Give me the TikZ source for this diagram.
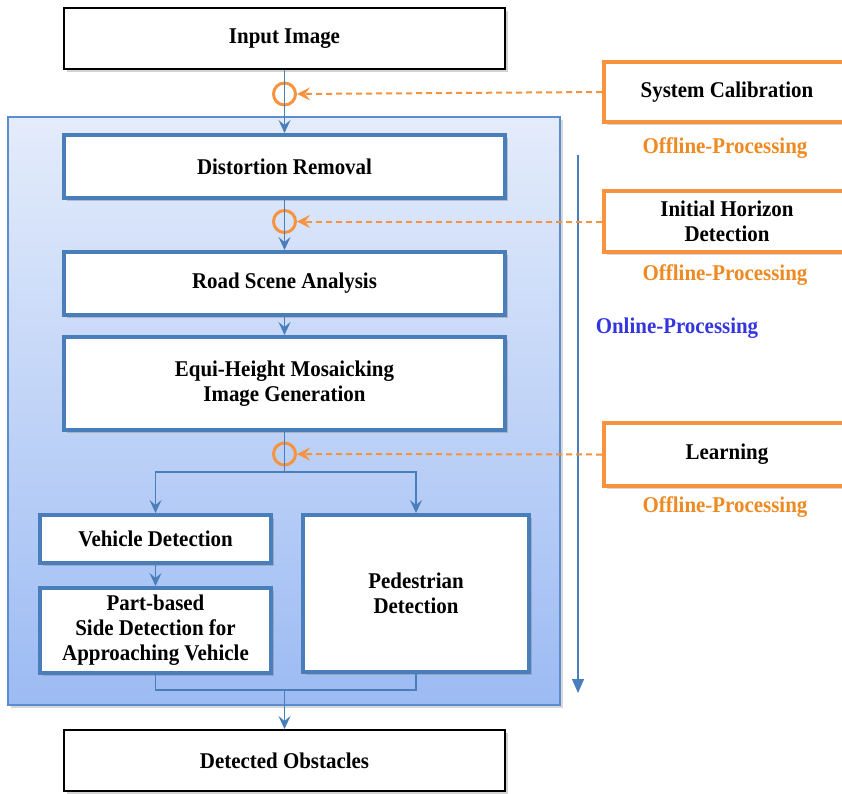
\documentclass[tikz,border=0pt]{standalone}
\usepackage{fontspec}
\setmainfont{Liberation Serif}[FakeStretch=0.93]
\usetikzlibrary{arrows.meta,shadows}

\definecolor{flowblue}{HTML}{4A7EBB}
\definecolor{panelblue}{HTML}{5B8BD0}
\definecolor{paneltop}{HTML}{E4ECFB}
\definecolor{panelbottom}{HTML}{9CBBF3}
\definecolor{offorange}{HTML}{F7923E}
\definecolor{offtext}{HTML}{EF8A22}
\definecolor{onblue}{HTML}{3535E0}

\tikzset{
  txt/.style={font=\fontsize{22.5}{25}\selectfont\bfseries, align=center},
  plainbox/.style={txt, draw=black, line width=2pt, fill=white,
    drop shadow={opacity=0.35, shadow xshift=3pt, shadow yshift=-3pt}},
  bluebox/.style={txt, draw=flowblue, line width=4pt, fill=white,
    drop shadow={opacity=0.4, shadow xshift=3pt, shadow yshift=-3pt}},
  orangebox/.style={txt, draw=offorange, line width=4pt, fill=white,
    minimum width=246pt, drop shadow={opacity=0.3, shadow xshift=3pt, shadow yshift=-3pt}},
  joint/.style={circle, draw=offorange, line width=3pt, minimum size=22pt, inner sep=0pt},
  flow/.style={flowblue, line width=1.5pt, -{Stealth[length=13pt,width=12pt,inset=5pt]}},
  link/.style={flowblue, line width=1.5pt},
  feed/.style={offorange, line width=2pt, dash pattern=on 6pt off 4pt,
    -{Stealth[length=13pt,width=13pt,inset=5pt]}},
  offlabel/.style={txt, text=offtext},
}

\begin{document}
\begin{tikzpicture}[x=1pt,y=-1pt]
  \useasboundingbox (0,0) rectangle (842,793);
  \clip (0,0) rectangle (842,793);
  \fill[white] (0,0) rectangle (842,793);

  % Online panel
  \shade[top color=paneltop, bottom color=panelbottom, draw=panelblue, line width=1.5pt,
    drop shadow={opacity=0.3, shadow xshift=3pt, shadow yshift=-3pt}]
    (8,117) rectangle (560,705);

  % Main chain
  \node[plainbox, minimum width=441pt, minimum height=61pt] (input) at (284.5,38.5) {Input Image};
  \node[bluebox, minimum width=441pt, minimum height=63pt] (undist) at (284.5,166.5) {Distortion Removal};
  \node[bluebox, minimum width=441pt, minimum height=63pt] (road) at (284.5,283.5) {Road Scene Analysis};
  \node[bluebox, minimum width=441pt, minimum height=93pt] (mosaic) at (284.5,383.5)
    {Equi-Height Mosaicking\\Image Generation};
  \node[bluebox, minimum width=231pt, minimum height=48pt] (vehicle) at (155.5,539) {Vehicle Detection};
  \node[bluebox, minimum width=231pt, minimum height=85pt] (side) at (155.5,630.5)
    {Part-based\\Side Detection for\\Approaching Vehicle};
  \node[bluebox, minimum width=226pt, minimum height=157pt] (pedestrian) at (416,593.5)
    {Pedestrian\\Detection};
  \node[plainbox, minimum width=441pt, minimum height=61pt] (obstacles) at (284.5,760.5) {Detected Obstacles};

  % Offline inputs
  \node[orangebox, minimum height=60pt] (calib) at (727,92) {System Calibration};
  \node[offlabel] (calibtag) at (725,148) {Offline-Processing};
  \node[orangebox, minimum height=61pt] (horizon) at (727,221.5) {Initial Horizon\\Detection};
  \node[offlabel] (horizontag) at (725,275) {Offline-Processing};
  \node[orangebox, minimum height=63pt] (learn) at (727,454.5) {Learning};
  \node[offlabel] (learntag) at (725,507) {Offline-Processing};

  % Online direction
  \coordinate (ontop) at (578,155);
  \coordinate (onend) at (578,693);
  \draw[flowblue, line width=1.2pt, -{Triangle[length=14pt,width=12pt]}] (ontop) -- (onend);
  \node[txt, text=onblue] (ontag) at (677,328) {Online-Processing};

  % Joints
  \node[joint] (j1) at (284.5,94) {};
  \node[joint] (j2) at (284.5,221.5) {};
  \node[joint] (j3) at (284.5,454) {};

  % Connectors
  \draw[flow] (input) -- (undist);
  \draw[flow] (undist) -- (road);
  \draw[flow] (road) -- (mosaic);
  \coordinate (split) at (284.5,472);
  \coordinate (merge) at (284.5,690);
  \draw[link] (mosaic) -- (split);
  \draw[flow] (split) -| (vehicle);
  \draw[flow] (split) -| (pedestrian);
  \draw[flow] (vehicle) -- (side);
  \draw[link] (side.south) |- (merge) -| (pedestrian.south);
  \draw[flow] (merge) -- (obstacles);

  \draw[feed] (calib.west) -- (j1.east);
  \draw[feed] (horizon.west) -- (j2.east);
  \draw[feed] (learn.west) -- (j3.east);
\end{tikzpicture}
\end{document}
